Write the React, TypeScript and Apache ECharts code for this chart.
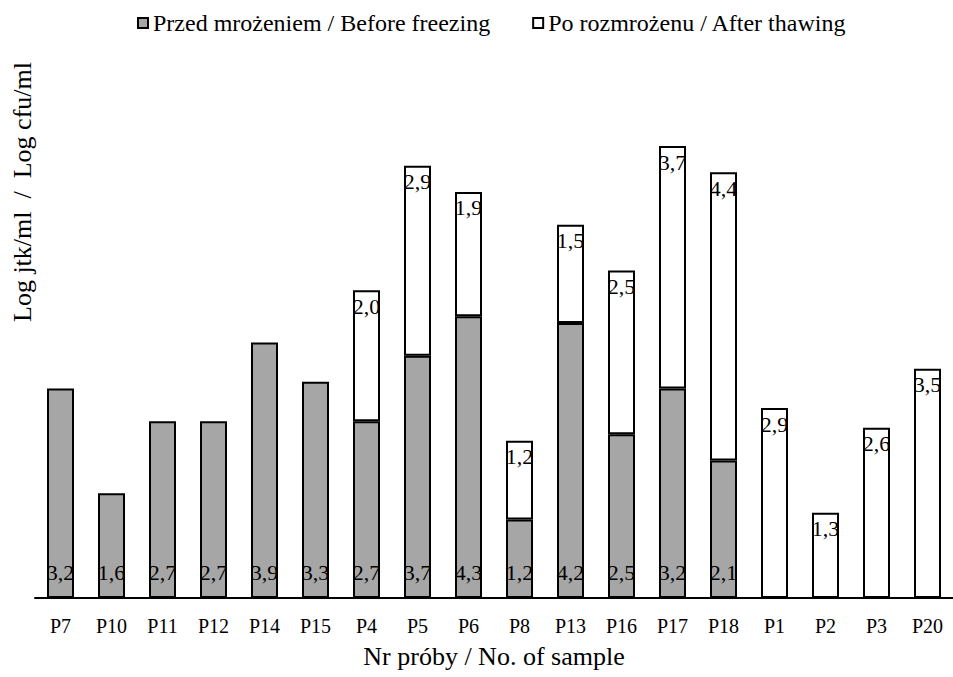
import React, { useEffect, useRef } from "react";
import * as echarts from "echarts";

const categories = ["P7", "P10", "P11", "P12", "P14", "P15", "P4", "P5", "P6", "P8", "P13", "P16", "P17", "P18", "P1", "P2", "P3", "P20"];
const beforeFreezing: (number | null)[] = [3.2, 1.6, 2.7, 2.7, 3.9, 3.3, 2.7, 3.7, 4.3, 1.2, 4.2, 2.5, 3.2, 2.1, null, null, null, null];
const afterThawing: (number | null)[] = [null, null, null, null, null, null, 2.0, 2.9, 1.9, 1.2, 1.5, 2.5, 3.7, 4.4, 2.9, 1.3, 2.6, 3.5];

const seriesNames = ["Przed mrożeniem / Before freezing", "Po rozmrożenu / After thawing"];
const xAxisName = "Nr próby / No. of sample";
const yAxisName = "Log jtk/ml  /  Log cfu/ml";

const FONT = "Liberation Serif";

const fmt = (p: any) => (p.value == null ? "" : Number(p.value).toFixed(1).replace(".", ","));

export default function App() {
  const ref = useRef<HTMLDivElement>(null);
  useEffect(() => {
    if (!ref.current) return;
    const chart = echarts.init(ref.current, null, { renderer: "svg" });
    chart.setOption({
      animation: false,
      backgroundColor: "#ffffff",
      textStyle: { fontFamily: FONT, color: "#000" },
      legend: {
        top: 6,
        left: 132,
        itemWidth: 10,
        itemHeight: 10,
        itemGap: 42,
        icon: "rect",
        textStyle: { fontFamily: FONT, fontSize: 24, color: "#000" },
        data: seriesNames,
      },
      grid: { left: 35, right: -6, top: 139.5, bottom: 677 - 598, containLabel: false },
      xAxis: {
        type: "category",
        data: categories,
        axisLine: { lineStyle: { color: "#000", width: 2 } },
        axisTick: { show: false },
        axisLabel: { fontFamily: FONT, fontSize: 20, color: "#000", margin: 18, interval: 0 },
        name: xAxisName,
        nameLocation: "middle",
        nameGap: 45,
        nameTextStyle: { fontFamily: FONT, fontSize: 26, color: "#000" },
      },
      yAxis: {
        type: "value",
        min: 0,
        max: 7,
        show: false,
        splitLine: { show: false },
      },
      graphic: [
        {
          type: "text",
          x: 22,
          y: 192,
          rotation: Math.PI / 2,
          style: {
            text: yAxisName,
            fontFamily: FONT,
            fontSize: 26,
            fill: "#000",
            textAlign: "center",
            textVerticalAlign: "middle",
          },
        },
      ],
      series: [
        {
          name: seriesNames[0],
          type: "bar",
          stack: "total",
          barWidth: 27,
          data: beforeFreezing,
          itemStyle: { color: "#a6a6a6", borderColor: "#000", borderWidth: 2 },
          label: {
            show: true,
            position: "insideBottom",
            distance: 15,
            formatter: fmt,
            fontFamily: FONT,
            fontSize: 22,
            color: "#000",
          },
        },
        {
          name: seriesNames[1],
          type: "bar",
          stack: "total",
          barWidth: 27,
          data: afterThawing,
          itemStyle: { color: "#ffffff", borderColor: "#000", borderWidth: 2 },
          label: {
            show: true,
            position: "insideTop",
            distance: 5,
            formatter: fmt,
            fontFamily: FONT,
            fontSize: 22,
            color: "#000",
          },
        },
      ],
    });
    return () => chart.dispose();
  }, []);
  return <div ref={ref} style={{ position: "absolute", left: 0, top: 0, width: 953, height: 677 }} />;
}
